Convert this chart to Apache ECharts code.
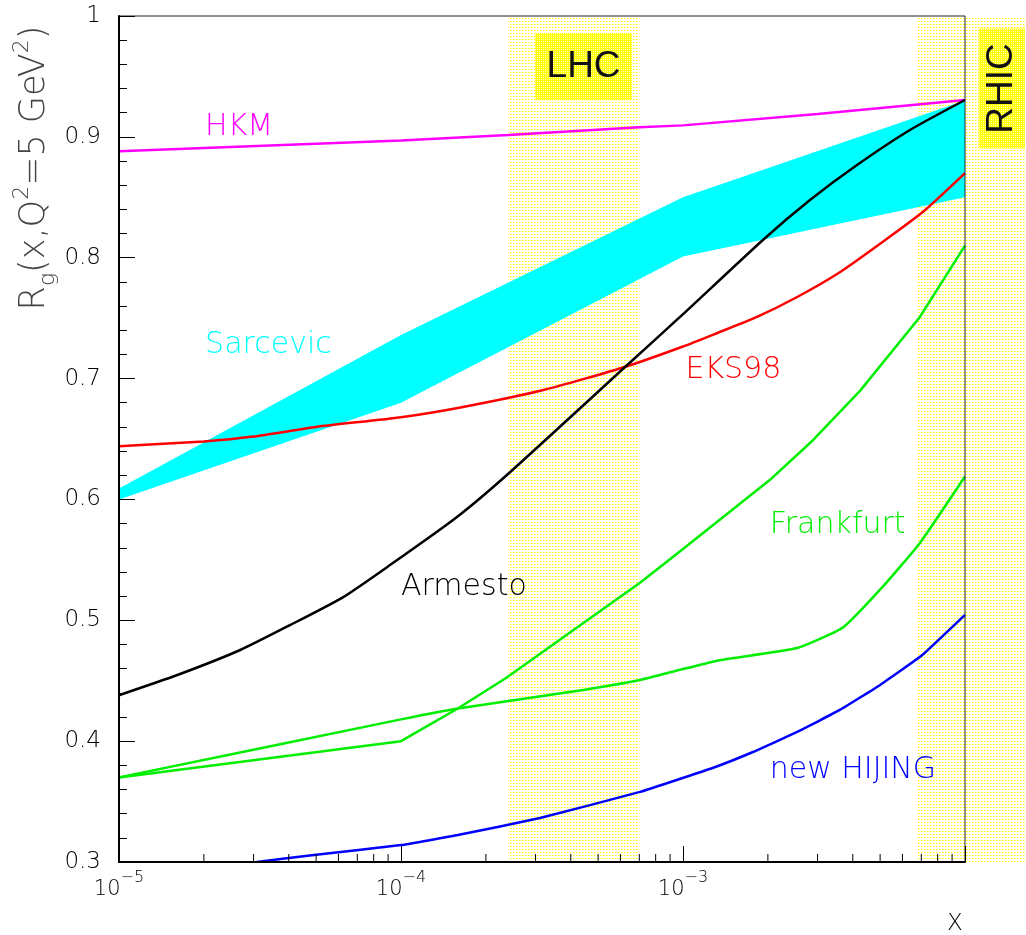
<!DOCTYPE html>
<html>
<head>
<meta charset="utf-8">
<script src="https://cdn.jsdelivr.net/npm/echarts@6/dist/echarts.min.js"></script>
<style>
  html, body { margin: 0; padding: 0; background: #fff; }
  #chart { width: 1026px; height: 935px; }
</style>
</head>
<body>
<div id="chart"></div>
<script>
// Gluon nuclear ratio R_g(x, Q^2 = 5 GeV^2) for several shadowing models

// HKM
const hkmX = [1e-5, 1e-4, 2.4e-4, 7e-4, 1e-3, 3e-3, 1e-2];
const hkmY = [0.888, 0.897, 0.9015, 0.908, 0.9095, 0.919, 0.9305];

// Sarcevic band (lower and upper edge)
const sarcX = [1e-5, 1e-4, 1e-3, 1e-2];
const sarcLow = [0.600, 0.680, 0.801, 0.850];
const sarcHigh = [0.609, 0.736, 0.850, 0.930];

// EKS98
const eksX = [1e-5, 2e-5, 3e-5, 5e-5, 1e-4, 1.66e-4, 3.2e-4, 6.3e-4, 1e-3, 1.3e-3, 1.83e-3, 2.54e-3, 3.6e-3, 5.1e-3, 7.1e-3, 1e-2];
const eksY = [0.644, 0.648, 0.652, 0.660, 0.668, 0.6765, 0.6905, 0.710, 0.7265, 0.737, 0.751, 0.7675, 0.788, 0.813, 0.838, 0.870];

// Armesto
const armX = [1e-5, 1.61e-5, 2.69e-5, 4.04e-5, 6.22e-5, 9.14e-5, 1.58e-4, 2.44e-4, 6.33e-4, 9.76e-4, 1.92e-3, 2.82e-3, 4.14e-3, 6.38e-3, 1e-2];
const armY = [0.438, 0.4547, 0.4754, 0.496, 0.519, 0.5457, 0.5855, 0.6227, 0.711, 0.751, 0.8147, 0.8477, 0.8767, 0.9057, 0.9305];

// Frankfurt (two curves)
const frankAX = [1e-5, 1e-4, 1.59e-4, 2.35e-4, 7.04e-4, 1e-3, 2.03e-3, 2.89e-3, 4.25e-3, 6.92e-3, 1e-2];
const frankAY = [0.370, 0.400, 0.427, 0.452, 0.531, 0.559, 0.616, 0.649, 0.690, 0.751, 0.810];
const frankBX = [1e-5, 1e-4, 1.59e-4, 4.07e-4, 7.04e-4, 9.76e-4, 1.35e-3, 2.54e-3, 3.69e-3, 5.12e-3, 6.92e-3, 1e-2];
const frankBY = [0.370, 0.418, 0.427, 0.441, 0.4506, 0.459, 0.467, 0.477, 0.494, 0.528, 0.564, 0.619];

// new HIJING
const hijX = [3.08e-5, 5.0e-5, 1e-4, 1.59e-4, 3.11e-4, 7.04e-4, 1.28e-3, 1.77e-3, 2.54e-3, 3.6e-3, 5.0e-3, 7.04e-3, 1e-2];
const hijY = [0.300, 0.306, 0.314, 0.3223, 0.3364, 0.358, 0.378, 0.391, 0.4076, 0.4258, 0.4465, 0.471, 0.5044];

// Kinematic regions (x ranges)
const bandNames = ['LHC', 'RHIC'];
const bandFrom = [2.4e-4, 6.8e-3];
const bandTo = [7.0e-4, 1.65e-2];

// Axis ranges
const xMin = 1e-5, xMax = 1e-2;
const yMin = 0.3, yMax = 1.0, yStep = 0.1;

// ---------------------------------------------------------------
const zip = (xs, ys) => xs.map((x, i) => [x, ys[i]]);

// minor ticks of the log axis: 2..9 within each decade
const xMinorTicks = [];
for (let d = xMin; d < xMax * 0.999; d *= 10) {
  for (let k = 2; k <= 9; k++) xMinorTicks.push(d * k);
}

function makePattern(w, h, base, dots) {
  const c = document.createElement('canvas');
  c.width = w; c.height = h;
  const g = c.getContext('2d');
  if (base) { g.fillStyle = base; g.fillRect(0, 0, w, h); }
  dots.forEach(([x, y, dw, dh, col]) => { g.fillStyle = col; g.fillRect(x, y, dw, dh); });
  return c;
}
const bandPattern = { image: makePattern(3, 3, null, [[0, 0, 1, 1, '#ffff00'], [1, 0, 1, 1, '#ffff80']]), repeat: 'repeat' };
const boxPattern = { image: makePattern(2, 2, '#ffff00', [[1, 1, 1, 1, '#ffffb0']]), repeat: 'repeat' };

const FONT = 'DejaVu Sans';
const layout = { left: 119, top: 16, right: 61, bottom: 73 };
const chartWidth = 1026;
const plotWidth = chartWidth - layout.left - layout.right;
// the hatched regions may run past the frame, up to the page edge
const decades = Math.log10(xMax / xMin);
const extMax = xMin * Math.pow(10, decades * (chartWidth - layout.left) / plotWidth);

const chart = echarts.init(document.getElementById('chart'), null, { renderer: 'canvas' });

function lineSeries(name, xs, ys, color, smooth) {
  return {
    name, type: 'line', xAxisIndex: 0, yAxisIndex: 0,
    data: zip(xs, ys), showSymbol: false, symbol: 'none',
    smooth: smooth || false, z: 3,
    lineStyle: { color, width: 2.5 }, silent: true, animation: false
  };
}

const option = {
  animation: false,
  backgroundColor: '#fff',
  grid: [
    { left: layout.left, top: layout.top, right: layout.right, bottom: layout.bottom,
      show: true, borderColor: '#222', borderWidth: 1, z: 4 },
    { left: layout.left, top: layout.top, right: 0, bottom: layout.bottom, show: false }
  ],
  xAxis: [
    {
      type: 'log', logBase: 10, gridIndex: 0, min: xMin, max: xMax, splitNumber: 3, z: 5,
      axisLine: { show: true, lineStyle: { color: '#000', width: 2 } },
      axisTick: { show: true, inside: true, length: 16, lineStyle: { color: '#000', width: 1 } },
      splitLine: { show: false },
      axisLabel: {
        margin: 8,
        formatter: v => {
          const e = Math.round(Math.log10(v));
          if (e >= Math.round(Math.log10(xMax))) return '';
          return '{b|10}{e|\u2212' + (-e) + '}';
        },
        rich: {
          b: { fontSize: 21, fontFamily: FONT, fontWeight: 200, color: '#000', lineHeight: 30, verticalAlign: 'bottom' },
          e: { fontSize: 16, fontFamily: FONT, fontWeight: 200, color: '#000', lineHeight: 30, verticalAlign: 'top' }
        }
      }
    },
    { type: 'log', logBase: 10, gridIndex: 1, min: xMin, max: extMax, show: false }
  ],
  yAxis: [
    {
      type: 'value', gridIndex: 0, min: yMin, max: yMax, interval: yStep, z: 5,
      axisLine: { show: true, lineStyle: { color: '#000', width: 2 } },
      axisTick: { show: true, inside: true, length: 16, lineStyle: { color: '#000', width: 1 } },
      minorTick: { show: true, splitNumber: 5, length: 8, lineStyle: { color: '#000', width: 1 } },
      splitLine: { show: false },
      axisLabel: { margin: 18, fontSize: 23, fontFamily: FONT, fontWeight: 200, color: '#000' }
    },
    { type: 'value', gridIndex: 1, min: yMin, max: yMax, show: false }
  ],
  series: [
    // dotted kinematic regions
    {
      type: 'custom', xAxisIndex: 1, yAxisIndex: 1, z: 1, silent: true,
      data: bandFrom.map((f, i) => [f, bandTo[i]]),
      encode: { x: [0, 1] },
      renderItem: (params, api) => {
        const p0 = api.coord([api.value(0), yMax]);
        const p1 = api.coord([api.value(1), yMin]);
        return { type: 'rect', shape: { x: p0[0], y: p0[1], width: p1[0] - p0[0], height: p1[1] - p0[1] },
                 style: { fill: bandPattern } };
      }
    },
    // Sarcevic band
    {
      type: 'custom', xAxisIndex: 0, yAxisIndex: 0, z: 2, silent: true,
      data: [0],
      renderItem: (params, api) => {
        const pts = sarcX.map((x, i) => api.coord([x, sarcHigh[i]]))
          .concat(sarcX.map((x, i) => api.coord([x, sarcLow[i]])).reverse());
        return { type: 'polygon', shape: { points: pts }, style: { fill: '#00ffff' } };
      }
    },
    lineSeries('HKM', hkmX, hkmY, '#ff00ff', false),
    lineSeries('EKS98', eksX, eksY, '#ff0000', 0.2),
    lineSeries('Armesto', armX, armY, '#000000', 0.2),
    lineSeries('Frankfurt', frankAX, frankAY, '#00ee00', false),
    lineSeries('Frankfurt 2', frankBX, frankBY, '#00ee00', 0.15),
    lineSeries('new HIJING', hijX, hijY, '#0000ff', 0.1),
    // minor ticks of the x axis
    {
      type: 'custom', xAxisIndex: 0, yAxisIndex: 0, z: 5, silent: true,
      data: xMinorTicks.map(v => [v, yMin]),
      renderItem: (params, api) => {
        const p = api.coord([api.value(0), yMin]);
        return { type: 'line', shape: { x1: p[0], y1: p[1], x2: p[0], y2: p[1] - 8 },
                 style: { stroke: '#000', lineWidth: 1 } };
      }
    }
  ]
};
chart.setOption(option);

// text annotations anchored in data coordinates
const curveLabels = [
  { text: 'HKM', x: 2.02e-5, y: 0.908, color: '#ff00ff' },
  { text: 'Sarcevic', x: 2.02e-5, y: 0.728, color: '#00ffff' },
  { text: 'EKS98', x: 1.02e-3, y: 0.707, color: '#ff0000' },
  { text: 'Armesto', x: 1.0e-4, y: 0.527, color: '#000000' },
  { text: 'Frankfurt', x: 2.03e-3, y: 0.579, color: '#00ee00' },
  { text: 'new HIJING', x: 2.03e-3, y: 0.376, color: '#0000ff' }
];
const regionLabels = [
  { text: 'LHC', x: 4.44e-4, y: 0.958, w: 97, h: 67, rotate: false },
  { text: 'RHIC', x: 1.35e-2, y: 0.940, w: 46, h: 120, rotate: true }
];

const graphics = [];
curveLabels.forEach(l => {
  const p = chart.convertToPixel({ xAxisIndex: 0, yAxisIndex: 0 }, [l.x, l.y]);
  graphics.push({
    type: 'text', x: p[0], y: p[1], z: 20, silent: true,
    style: { text: l.text, fill: l.color, fontSize: 30, fontFamily: FONT, fontWeight: 200,
             align: 'left', verticalAlign: 'middle' }
  });
});
regionLabels.forEach(l => {
  const p = chart.convertToPixel({ xAxisIndex: 1, yAxisIndex: 1 }, [l.x, l.y]);
  graphics.push({
    type: 'rect', z: 18, silent: true,
    shape: { x: p[0] - l.w / 2, y: p[1] - l.h / 2, width: l.w, height: l.h },
    style: { fill: boxPattern }
  });
  graphics.push({
    type: 'text', x: p[0], y: p[1], z: 19, silent: true,
    rotation: l.rotate ? Math.PI / 2 : 0,
    style: { text: l.text, fill: '#111', fontSize: 37, fontFamily: 'Liberation Sans',
             align: 'center', verticalAlign: 'middle',
             textShadowColor: 'rgba(70,70,0,0.9)', textShadowOffsetX: -2, textShadowOffsetY: -1 }
  });
});

// axis titles
graphics.push({
  type: 'text', x: 35, y: 168, z: 20, silent: true, rotation: Math.PI / 2,
  style: {
    text: '{m|R}{s|g}{m|(x,Q}{p|2}{m|=5 GeV}{p|2}{m|)}',
    align: 'center', verticalAlign: 'middle',
    rich: {
      m: { fontSize: 35, fontFamily: FONT, fontWeight: 200, fill: '#444', lineHeight: 48, verticalAlign: 'middle' },
      s: { fontSize: 22, fontFamily: FONT, fontWeight: 200, fill: '#444', lineHeight: 48, verticalAlign: 'bottom' },
      p: { fontSize: 22, fontFamily: FONT, fontWeight: 200, fill: '#444', lineHeight: 48, verticalAlign: 'top' }
    }
  }
});
graphics.push({
  type: 'text', x: 955, y: 924, z: 20, silent: true,
  style: { text: 'X', fill: '#000', fontSize: 23, fontFamily: FONT, fontWeight: 200,
           align: 'center', verticalAlign: 'middle' }
});

chart.setOption({ graphic: graphics });
</script>
</body>
</html>
